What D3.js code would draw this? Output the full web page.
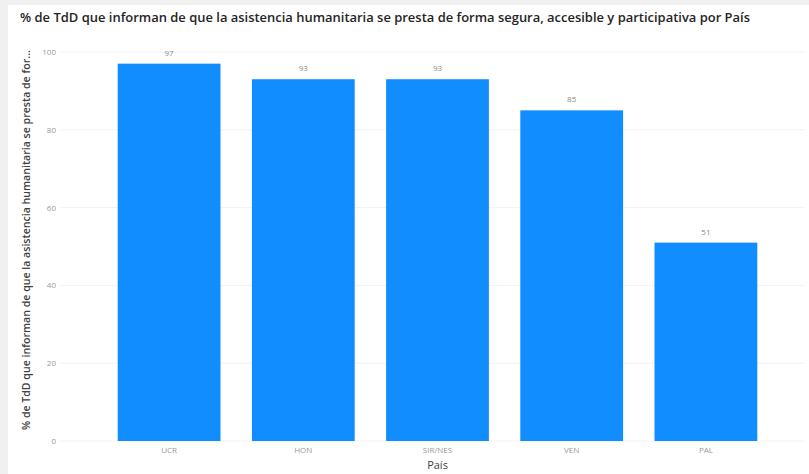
<!DOCTYPE html>
<html><head><meta charset="utf-8">
<script src="https://cdn.jsdelivr.net/npm/d3@7"></script>
<style>
html,body{margin:0;padding:0;background:#f0f0f0;}
svg{display:block;}
</style></head>
<body>
<svg id="chart" width="809" height="474"></svg>
<script>
const categories = ["UCR", "HON", "SIR/NES", "VEN", "PAL"];
const values = [97, 93, 93, 85, 51];
const yTicks = [0, 20, 40, 60, 80, 100];
const title = "% de TdD que informan de que la asistencia humanitaria se presta de forma segura, accesible y participativa por País";
const yTitle = "% de TdD que informan de que la asistencia humanitaria se presta de for...";
const xTitle = "País";

const svg = d3.select("#chart");
const font = "'Open Sans', 'DejaVu Sans', sans-serif";

svg.append("rect").attr("x", 8).attr("y", 5).attr("width", 801).attr("height", 469).attr("fill", "#ffffff");

svg.append("text").attr("x", 20).attr("y", 22)
  .attr("font-family", font).attr("font-size", 12).attr("font-weight", 600).attr("fill", "#252423")
  .attr("textLength", 730).attr("lengthAdjust", "spacingAndGlyphs")
  .text(title);

const x = d3.scaleBand().domain(categories).range([102, 773]).paddingInner(0.234).paddingOuter(0.117);
const y = d3.scaleLinear().domain([0, 100]).range([441, 52]);

const grid = svg.append("g");
grid.selectAll("line").data(yTicks).join("line")
  .attr("x1", 60).attr("x2", 805)
  .attr("y1", d => y(d)).attr("y2", d => y(d))
  .attr("stroke", "#f2f2f2").attr("stroke-width", 1);

const yAxis = svg.append("g").attr("transform", "translate(56,0)")
  .call(d3.axisLeft(y).tickValues(yTicks).tickSize(0).tickPadding(0));
yAxis.select(".domain").remove();
yAxis.selectAll("text").attr("font-family", font).attr("font-size", 8).attr("fill", "#999999");

const xAxis = svg.append("g").attr("transform", "translate(0,447)")
  .call(d3.axisBottom(x).tickSize(0).tickPadding(0));
xAxis.select(".domain").remove();
xAxis.selectAll("text").attr("font-family", font).attr("font-size", 8).attr("fill", "#999999").attr("dy", "0.71em");

svg.append("g").selectAll("rect").data(values).join("rect")
  .attr("x", (d, i) => x(categories[i]))
  .attr("width", x.bandwidth())
  .attr("y", d => y(d))
  .attr("height", d => y(0) - y(d))
  .attr("fill", "#118DFF");

svg.append("g").selectAll("text").data(values).join("text")
  .attr("x", (d, i) => x(categories[i]) + x.bandwidth() / 2)
  .attr("y", d => y(d) - 8)
  .attr("text-anchor", "middle")
  .attr("font-family", font).attr("font-size", 8).attr("fill", "#888888")
  .text(d => d);

svg.append("text").attr("x", x(categories[2]) + x.bandwidth() / 2).attr("y", 469)
  .attr("text-anchor", "middle")
  .attr("font-family", font).attr("font-size", 11).attr("fill", "#404040")
  .text(xTitle);

svg.append("text")
  .attr("transform", "translate(30,240) rotate(-90)")
  .attr("text-anchor", "middle")
  .attr("font-family", font).attr("font-size", 10).attr("font-weight", 600).attr("fill", "#404040")
  .attr("textLength", 380).attr("lengthAdjust", "spacingAndGlyphs")
  .text(yTitle);
</script>
</body></html>
